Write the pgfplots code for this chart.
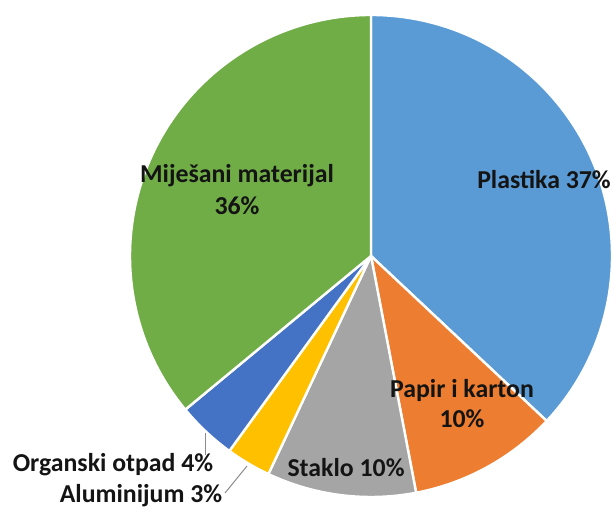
\documentclass[border=0pt]{standalone}
\usepackage{pgfplots}
\pgfplotsset{compat=1.18}
\usepackage{pgfplotstable}
\usepackage{fontspec}
\setmainfont{Carlito}
\definecolor{slice0}{HTML}{5B9BD5}
\definecolor{slice1}{HTML}{ED7D31}
\definecolor{slice2}{HTML}{A5A5A5}
\definecolor{slice3}{HTML}{FFC000}
\definecolor{slice4}{HTML}{4472C4}
\definecolor{slice5}{HTML}{70AD47}
\definecolor{txt}{HTML}{141414}
\pgfplotstableread{
label value
Plastika 37
Papir 10
Staklo 10
Aluminijum 3
Organski 4
Mijesani 36
}\piedata
\begin{document}
\begin{tikzpicture}
\begin{axis}[name=ax, hide axis, scale only axis, clip=false,
  x=0.5pt, y=0.5pt, xmin=0, xmax=614, ymin=0, ymax=507]
\pgfmathsetmacro\angstart{90}
\pgfplotsforeachungrouped \i in {0,...,5}{%
  \pgfplotstablegetelem{\i}{value}\of\piedata
  \pgfmathsetmacro\angend{\angstart-3.6*\pgfplotsretval}%
  \edef\slicecmd{\noexpand\fill[fill=slice\i, draw=white, line width=1.2pt, line join=round] (axis cs:371,251) -- ++(\angstart:120.5pt) arc[start angle=\angstart, end angle=\angend, radius=120.5pt] -- cycle;}%
  \slicecmd
  \let\angstart\angend
}
\draw[black!45, line width=0.5pt] (axis cs:205,74) -- (axis cs:205,52);
\draw[black!45, line width=0.5pt] (axis cs:247,41) -- (axis cs:225,14);
\tikzset{lab/.style={anchor=base, text=txt, font=\fontsize{12.9}{15}\selectfont\bfseries, inner sep=0pt}}
\node[lab] at (axis cs:544,318) {Plastika 37\%};
\node[lab] at (axis cs:237,324) {Miješani materijal};
\node[lab] at (axis cs:237,292) {36\%};
\node[lab] at (axis cs:462,109) {Papir i karton};
\node[lab] at (axis cs:462,79) {10\%};
\node[lab] at (axis cs:346,30) {Staklo 10\%};
\node[lab] at (axis cs:113,35) {Organski otpad 4\%};
\node[lab] at (axis cs:141,4) {Aluminijum 3\%};
\end{axis}
\pgfresetboundingbox
\path (ax.south west) rectangle (ax.north east);
\end{tikzpicture}
\end{document}
